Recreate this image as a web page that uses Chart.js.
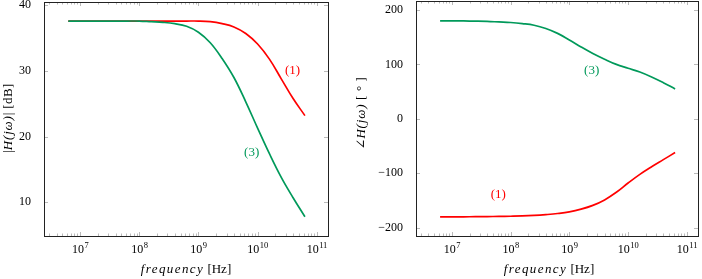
<!DOCTYPE html>
<html>
<head>
<meta charset="utf-8">
<script src="https://cdn.jsdelivr.net/npm/chart.js@4.4.1/dist/chart.umd.min.js"></script>
<style>
body { margin: 0; background: #fff; }
.wrap { display: flex; width: 702px; height: 279px; }
canvas { display: block; }
</style>
</head>
<body>
<div class="wrap">
    <canvas id="magChart" width="351" height="279"></canvas>
    <canvas id="phaseChart" width="351" height="279"></canvas>
</div>
<script>
// frequency samples as log10(f / Hz)
let logFreq = [6.8, 7.0, 7.2, 7.4, 7.6, 7.8, 8.0, 8.2, 8.4, 8.6, 8.8, 9.0, 9.2, 9.4, 9.6, 9.8, 10.0, 10.2, 10.4, 10.6, 10.8]

// |H(jw)| in dB
let magCase1 = [37.6, 37.6, 37.6, 37.6, 37.6, 37.6, 37.6, 37.6, 37.6, 37.6, 37.6, 37.6, 37.5, 37.2, 36.7, 35.7, 34.1, 31.8, 28.8, 25.8, 23.2]
let magCase3 = [37.6, 37.6, 37.6, 37.6, 37.6, 37.6, 37.6, 37.5, 37.4, 37.2, 36.8, 35.9, 34.3, 31.9, 29.0, 25.3, 21.3, 17.4, 13.8, 10.7, 7.8]

// angle H(jw) in degrees
let phaseCase1 = [-180, -180, -180, -179.8, -179.6, -179.3, -179, -178.5, -177.5, -176, -174, -171, -166, -159, -149, -135, -118, -102, -88, -75, -62]
let phaseCase3 = [180, 180, 179.8, 179.5, 179, 178, 177, 175, 172, 166, 157, 145, 132, 120, 109.5, 100, 93, 86, 77, 66.5, 55]

let xTickPowers = [7, 8, 9, 10, 11]
let magTicks = [10, 20, 30, 40]
let phaseTicks = [-200, -100, 0, 100, 200]

let red = "#ff0000"
let green = "#00995a"
let serif = '"Liberation Serif", "DejaVu Serif", serif'
let upright = "12px " + serif
let titleUp = "13px " + serif
let titleIt = "italic 13px " + serif

function points(values) {
    return logFreq.map((l, i) => ({ x: Math.pow(10, l), y: values[i] }))
}

function drawRich(ctx, segs, x, y, angle) {
    ctx.save()
    ctx.translate(x, y)
    ctx.rotate(angle)
    ctx.textAlign = "left"
    ctx.textBaseline = "alphabetic"
    let total = 0
    for (let s of segs) {
        ctx.font = s[1]
        ctx.letterSpacing = s[2] || "0px"
        total += ctx.measureText(s[0]).width
    }
    let cx = -total / 2
    for (let s of segs) {
        ctx.font = s[1]
        ctx.letterSpacing = s[2] || "0px"
        ctx.fillText(s[0], cx, 0)
        cx += ctx.measureText(s[0]).width
    }
    ctx.restore()
}

// pgfplots style frame, inward ticks, 10^n labels, axis titles and curve labels
let pgfAxis = {
    id: "pgfAxis",
    afterDraw(chart, args, opts) {
        let ctx = chart.ctx
        let a = chart.chartArea
        let xs = chart.scales.x
        let ys = chart.scales.y
        ctx.save()

        ctx.strokeStyle = "#a8a8a8"
        ctx.lineWidth = 0.8
        ctx.beginPath()
        for (let p = 6; p <= 11; p++) {
            for (let m = 1; m <= 9; m++) {
                let v = m * Math.pow(10, p)
                if (v < xs.min || v > xs.max) continue
                let px = Math.round(xs.getPixelForValue(v)) + 0.5
                let len = m == 1 ? 4 : 2.5
                ctx.moveTo(px, a.bottom)
                ctx.lineTo(px, a.bottom - len)
                ctx.moveTo(px, a.top)
                ctx.lineTo(px, a.top + len)
            }
        }
        for (let v of opts.yTicks) {
            let py = Math.round(ys.getPixelForValue(v)) + 0.5
            ctx.moveTo(a.left, py)
            ctx.lineTo(a.left + 4, py)
            ctx.moveTo(a.right, py)
            ctx.lineTo(a.right - 4, py)
        }
        ctx.stroke()

        ctx.strokeStyle = "#222"
        ctx.lineWidth = 1
        ctx.strokeRect(Math.round(a.left) + 0.5, Math.round(a.top) + 0.5,
            Math.round(a.right - a.left), Math.round(a.bottom - a.top))

        // x tick labels 10^n
        ctx.fillStyle = "#000"
        ctx.textAlign = "left"
        ctx.textBaseline = "alphabetic"
        for (let p of xTickPowers) {
            let px = xs.getPixelForValue(Math.pow(10, p))
            ctx.font = upright
            let wb = ctx.measureText("10").width
            ctx.font = "8.5px " + serif
            let we = ctx.measureText(String(p)).width
            let x0 = px - (wb + we) / 2
            ctx.font = upright
            ctx.fillText("10", x0, a.bottom + 17)
            ctx.font = "8.5px " + serif
            ctx.fillText(String(p), x0 + wb + 0.5, a.bottom + 12)
        }

        // axis titles
        drawRich(ctx, [["frequency", titleIt, "1.4px"], [" [Hz]", titleUp]],
            (a.left + a.right) / 2 + opts.xTitleShift, 273, 0)
        drawRich(ctx, opts.yTitle, opts.yTitleX, opts.yTitleY, -Math.PI / 2)

        // curve labels
        ctx.textAlign = "center"
        ctx.textBaseline = "middle"
        ctx.font = titleUp
        for (let l of opts.curveLabels) {
            ctx.fillStyle = l.color
            ctx.fillText(l.text, xs.getPixelForValue(l.x), ys.getPixelForValue(l.y))
        }
        ctx.restore()
    }
}

function makeChart(id, case1, case3, yMin, yMax, yTicks, yWidth, pad, axisOpts) {
    return new Chart(document.getElementById(id), {
        type: "line",
        data: {
            datasets: [
                { label: "(3)", data: points(case3), borderColor: green },
                { label: "(1)", data: points(case1), borderColor: red }
            ]
        },
        options: {
            responsive: false,
            animation: false,
            devicePixelRatio: 1,
            layout: { padding: pad },
            elements: {
                point: { radius: 0 },
                line: { borderWidth: 1.7, tension: 0.4 }
            },
            plugins: {
                legend: { display: false },
                tooltip: { enabled: false },
                pgfAxis: axisOpts
            },
            scales: {
                x: {
                    type: "logarithmic",
                    min: Math.pow(10, 6.39),
                    max: Math.pow(10, 11.19),
                    grid: { display: false },
                    border: { display: false },
                    ticks: { display: false },
                    afterFit: s => {
                        s.height = 43
                        s.paddingLeft = 0
                        s.paddingRight = 0
                    }
                },
                y: {
                    min: yMin,
                    max: yMax,
                    grid: { display: false },
                    border: { display: false },
                    afterBuildTicks: s => { s.ticks = yTicks.map(v => ({ value: v })) },
                    afterFit: s => {
                        s.width = yWidth
                        s.paddingTop = 0
                        s.paddingBottom = 0
                    },
                    ticks: {
                        color: "#000",
                        padding: 5,
                        font: { family: serif, size: 12 },
                        callback: v => String(v).replace("-", "\u2212")
                    }
                }
            }
        },
        plugins: [pgfAxis]
    })
}

makeChart("magChart", magCase1, magCase3, 4.87, 40.5, magTicks, 44,
    { top: 2, right: 23, left: 0, bottom: 0 },
    {
        yTicks: magTicks,
        xTitleShift: 0,
        yTitle: [["|", titleUp], ["H(j\u03c9)", titleIt, "0.8px"], ["| [dB]", titleUp, "0.4px"]],
        yTitleX: 12,
        yTitleY: 118,
        curveLabels: [
            { text: "(1)", x: Math.pow(10, 10.59), y: 30, color: red },
            { text: "(3)", x: Math.pow(10, 9.9), y: 17.5, color: green }
        ]
    })

makeChart("phaseChart", phaseCase1, phaseCase3, -215.3, 216.5, phaseTicks, 65,
    { top: 1, right: 4, left: 0, bottom: 0 },
    {
        yTicks: phaseTicks,
        xTitleShift: -8,
        yTitle: [["\u2220", titleUp], ["H(j\u03c9)", titleIt, "0.8px"], [" [ \u00b0 ]", titleUp, "0.6px"]],
        yTitleX: 14,
        yTitleY: 113,
        curveLabels: [
            { text: "(3)", x: Math.pow(10, 9.38), y: 88, color: green },
            { text: "(1)", x: Math.pow(10, 7.79), y: -139, color: red }
        ]
    })
</script>
</body>
</html>
